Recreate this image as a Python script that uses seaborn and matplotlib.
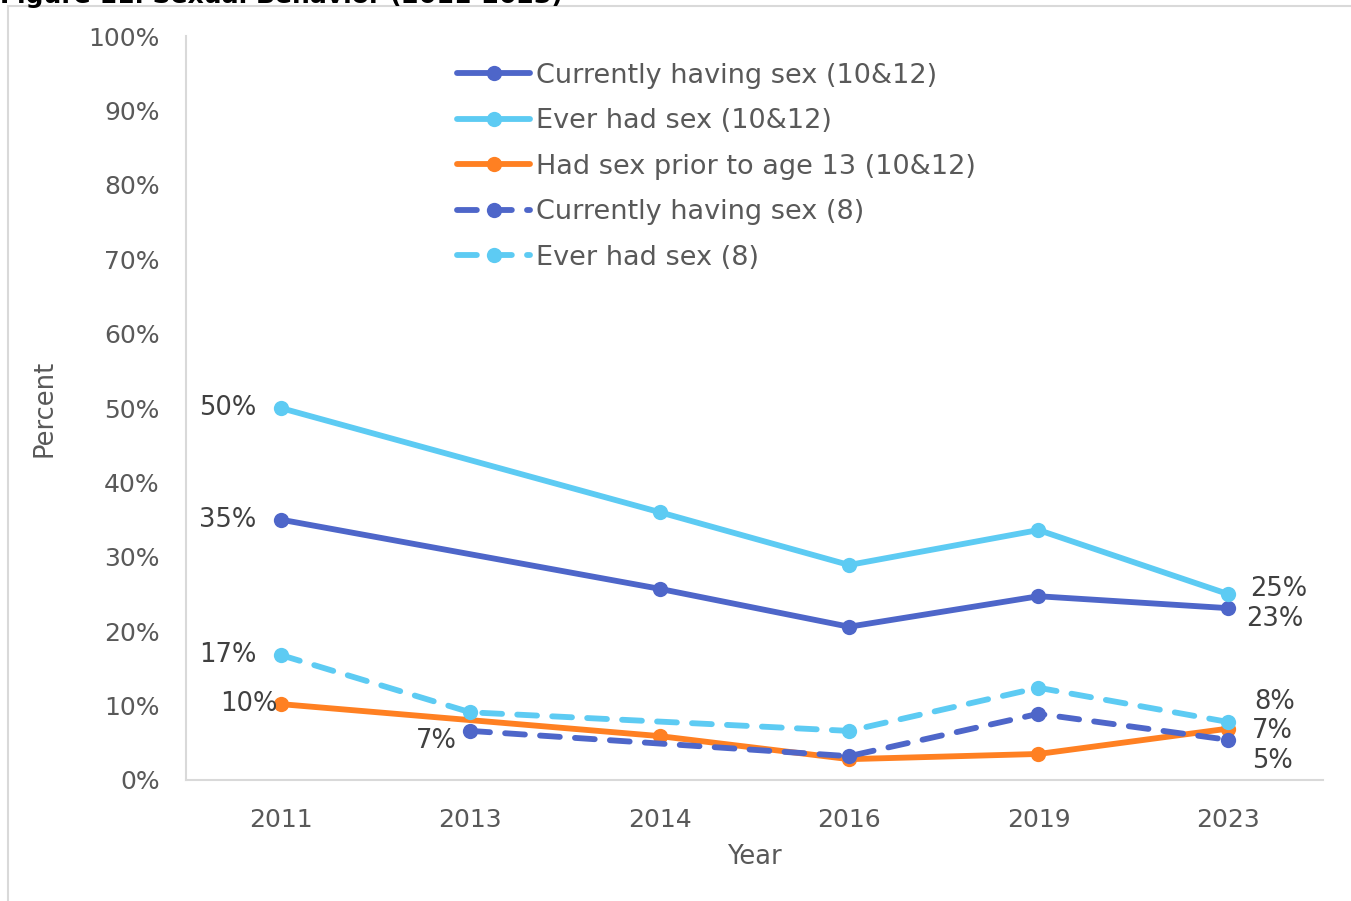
import numpy as np
import pandas as pd
import matplotlib
matplotlib.use('Agg')
import matplotlib.pyplot as plt
import seaborn as sns
from matplotlib.patches import Rectangle

years = ['2011', '2013', '2014', '2016', '2019', '2023']

cur_hs = [35, np.nan, 25.7, 20.6, 24.7, 23.1]
ever_hs = [50, np.nan, 36.0, 28.9, 33.6, 25.0]
prior13_hs = [10.2, np.nan, 5.9, 2.8, 3.5, 6.9]
cur_8 = [np.nan, 6.6, np.nan, 3.2, 8.9, 5.4]
ever_8 = [16.8, 9.1, np.nan, 6.6, 12.4, 7.8]

names = ['Currently having sex (10&12)', 'Ever had sex (10&12)',
         'Had sex prior to age 13 (10&12)', 'Currently having sex (8)',
         'Ever had sex (8)']
series = [cur_hs, ever_hs, prior13_hs, cur_8, ever_8]

colors = ['#4E66C9', '#5DCBF3', '#FF8022', '#4E66C9', '#5DCBF3']

rows = []
for n, vals in zip(names, series):
    for i, v in enumerate(vals):
        rows.append({'series': n, 'pos': i, 'year': years[i], 'value': v})
df = pd.DataFrame(rows).dropna()

sns.set_style('white')
plt.rcParams['font.family'] = ['DejaVu Sans']

fig = plt.figure(figsize=(13.51, 9.01), dpi=100)
ax = fig.add_axes([0.1377, 0.1343, 0.8413, 0.8257])

pal = dict(zip(names, colors))
dash = dict(zip(names, ['', '', '', (3.4, 2.6), (3.4, 2.6)]))
sns.lineplot(data=df, x='pos', y='value', hue='series', style='series',
             hue_order=names, style_order=names, palette=pal, dashes=dash,
             markers=dict(zip(names, ['o'] * 5)), markersize=11,
             markeredgewidth=0, linewidth=4.2, estimator=None, ax=ax)

for line in ax.get_lines():
    line.set_dash_capstyle('round')
    line.set_solid_capstyle('round')

ax.set_xlim(-0.5, len(years) - 0.5)
ax.set_ylim(0, 100)
ax.set_xticks(range(len(years)))
ax.set_xticklabels(years)
ax.set_yticks(range(0, 101, 10))
ax.set_yticklabels([f'{t}%' for t in range(0, 101, 10)])
ax.tick_params(axis='both', length=0, labelsize=18, colors='#595959')
ax.tick_params(axis='y', pad=19)
ax.tick_params(axis='x', pad=20)
for s in ['top', 'right']:
    ax.spines[s].set_visible(False)
for s in ['left', 'bottom']:
    ax.spines[s].set_color('#d9d9d9')
    ax.spines[s].set_linewidth(1.5)
ax.set_xlabel('Year', fontsize=18.5, color='#595959', labelpad=9)
ax.set_ylabel('Percent', fontsize=18.5, color='#595959', labelpad=22)

# data labels: (series index, year index, dx px, dy px, ha)
labels = [
    (1, 0, -24, 0, 'right'), (0, 0, -24, 0, 'right'),
    (4, 0, -24, 0, 'right'), (2, 0, -3, 0, 'right'),
    (3, 1, -13, -10, 'right'),
    (1, 5, 22, 5, 'left'), (0, 5, 18, -11, 'left'),
    (4, 5, 26, 20, 'left'), (2, 5, 24, -2, 'left'), (3, 5, 24, -21, 'left'),
]
for si, yi, dx, dy, ha in labels:
    v = series[si][yi]
    ax.annotate(f'{round(v)}%', (yi, v), xytext=(dx, dy),
                textcoords='offset pixels', ha=ha, va='center',
                fontsize=18.5, color='#404040')

handles, _ = ax.get_legend_handles_labels()
ax.legend(handles, names, loc='upper left', bbox_to_anchor=(0.217, 0.997),
          frameon=False, fontsize=19.5, labelcolor='#595959',
          handlelength=2.7, handletextpad=0.2, labelspacing=0.72)

fig.text(0.0, 1 - 3 / 901, 'Figure 11. Sexual Behavior (2011-2023)',
         fontsize=18, fontweight='bold', color='black', va='baseline')
fig.patches.append(Rectangle((0.006, -0.01), 1.0, 0.01 + 1 - 6 / 901,
                             transform=fig.transFigure, fill=False,
                             edgecolor='#d9d9d9', linewidth=1.5))

plt.savefig('out.png', dpi=100)
